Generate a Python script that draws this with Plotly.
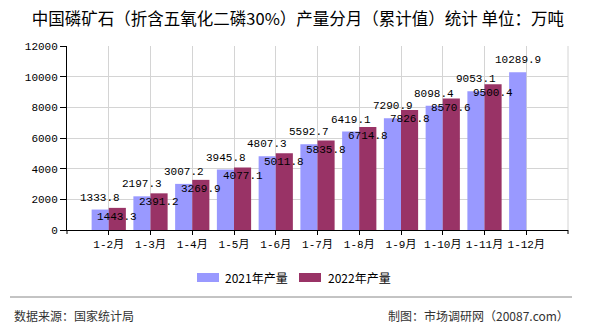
import plotly.graph_objects as go

# Cumulative monthly output of phosphate rock (30% P2O5 basis), unit: 10k tonnes
months = ["1-2月", "1-3月", "1-4月", "1-5月", "1-6月", "1-7月",
          "1-8月", "1-9月", "1-10月", "1-11月", "1-12月"]
prod_2021 = [1333.8, 2197.3, 3007.2, 3945.8, 4807.3, 5592.7,
             6419.1, 7290.9, 8098.4, 9053.1, 10289.9]
prod_2022 = [1443.3, 2391.2, 3269.9, 4077.1, 5011.8, 5835.8,
             6714.8, 7826.8, 8570.6, 9500.4, None]
series_names = ["2021年产量", "2022年产量"]
colors = ["#9999FF", "#993366"]

W, H = 590, 330
ML, MR, MT, MB = 67, 22, 46, 100
PW, PH = W - ML - MR, H - MT - MB

NUM_FONT = "Liberation Mono, DejaVu Sans Mono, Noto Sans CJK SC, monospace"
CJK_FONT = "Noto Sans CJK SC, sans-serif"
GRID = "#d4d4d4"


def px_x(p):
    return (p - ML) / PW


def px_y(q):
    return (MT + PH - q) / PH


fig = go.Figure()
fig.add_trace(go.Bar(x=months, y=prod_2021, name=series_names[0],
                     marker=dict(color=colors[0], line_width=0)))
fig.add_trace(go.Bar(x=months, y=prod_2022, name=series_names[1],
                     marker=dict(color=colors[1], line_width=0)))

annotations = []
# value labels: 2021 above its bar, 2022 just inside the top of its bar
for m, v in zip(months, prod_2021):
    annotations.append(dict(x=m, y=v, xref="x", yref="y", text=f"{v:.1f}",
                            showarrow=False, xshift=-8.5, yshift=12,
                            font=dict(family=NUM_FONT, size=11, color="#000")))
for m, v in zip(months, prod_2022):
    if v is None:
        continue
    annotations.append(dict(x=m, y=v, xref="x", yref="y", text=f"{v:.1f}",
                            showarrow=False, xshift=8.5, yshift=-9,
                            font=dict(family=NUM_FONT, size=11, color="#000")))

# legend
legend_items = [(197, 223), (299, 326)]
shapes = []
for (sx, tx), name, c in zip(legend_items, series_names, colors):
    shapes.append(dict(type="rect", xref="paper", yref="paper",
                       x0=px_x(sx), x1=px_x(sx + 22), y0=px_y(273), y1=px_y(282),
                       fillcolor=c, line_width=0))
    annotations.append(dict(x=px_x(tx), y=px_y(277.5), xref="paper", yref="paper",
                            text=name, showarrow=False, xanchor="left", yanchor="middle",
                            font=dict(family=CJK_FONT, size=12, color="#000")))

# right frame line and end ticks of the category axis
shapes.append(dict(type="line", xref="paper", yref="paper", x0=1, x1=1, y0=0, y1=1,
                   line=dict(color=GRID, width=1)))
for xp in (0, 1):
    shapes.append(dict(type="line", xref="paper", yref="paper", x0=xp, x1=xp,
                       y0=0, y1=px_y(MT + PH + 4), line=dict(color="#000", width=1)))

# footer rule and source lines
shapes.append(dict(type="line", xref="paper", yref="paper",
                   x0=px_x(10), x1=px_x(572), y0=px_y(297), y1=px_y(297),
                   line=dict(color="#888888", width=1)))
annotations.append(dict(x=px_x(12), y=px_y(315), xref="paper", yref="paper",
                        text="数据来源：国家统计局", showarrow=False,
                        xanchor="left", yanchor="middle",
                        font=dict(family=CJK_FONT, size=12, color="#333")))
annotations.append(dict(x=px_x(571), y=px_y(315), xref="paper", yref="paper",
                        text="制图：市场调研网（20087.com）", showarrow=False,
                        xanchor="right", yanchor="middle",
                        font=dict(family=CJK_FONT, size=12, color="#333")))

fig.update_layout(
    width=W, height=H,
    margin=dict(l=ML, r=MR, t=MT, b=MB, pad=0),
    paper_bgcolor="#ffffff", plot_bgcolor="#ffffff",
    barmode="group", bargap=0.18, bargroupgap=0,
    showlegend=False,
    title=dict(text="中国磷矿石（折含五氧化二磷30%）产量分月（累计值）统计 单位：万吨",
               x=0.505, xref="container", xanchor="center",
               y=1 - 19 / H, yref="container", yanchor="middle",
               font=dict(family=CJK_FONT, size=16.5, color="#000")),
    xaxis=dict(type="category", range=[-1, 11], showgrid=True, gridcolor=GRID,
               gridwidth=1, showline=True, linecolor="#000", linewidth=1,
               ticks="outside", ticklen=4, tickcolor="#000",
               tickfont=dict(family=NUM_FONT, size=11, color="#000")),
    yaxis=dict(range=[0, 12000], dtick=2000, tickformat="d", showgrid=True,
               gridcolor=GRID, gridwidth=1, zeroline=False, showline=True,
               linecolor="#000", linewidth=1, ticks="outside", ticklen=6,
               tickcolor="#000",
               tickfont=dict(family=NUM_FONT, size=11, color="#000")),
    shapes=shapes,
    annotations=annotations,
)

fig.write_html("out.html")
